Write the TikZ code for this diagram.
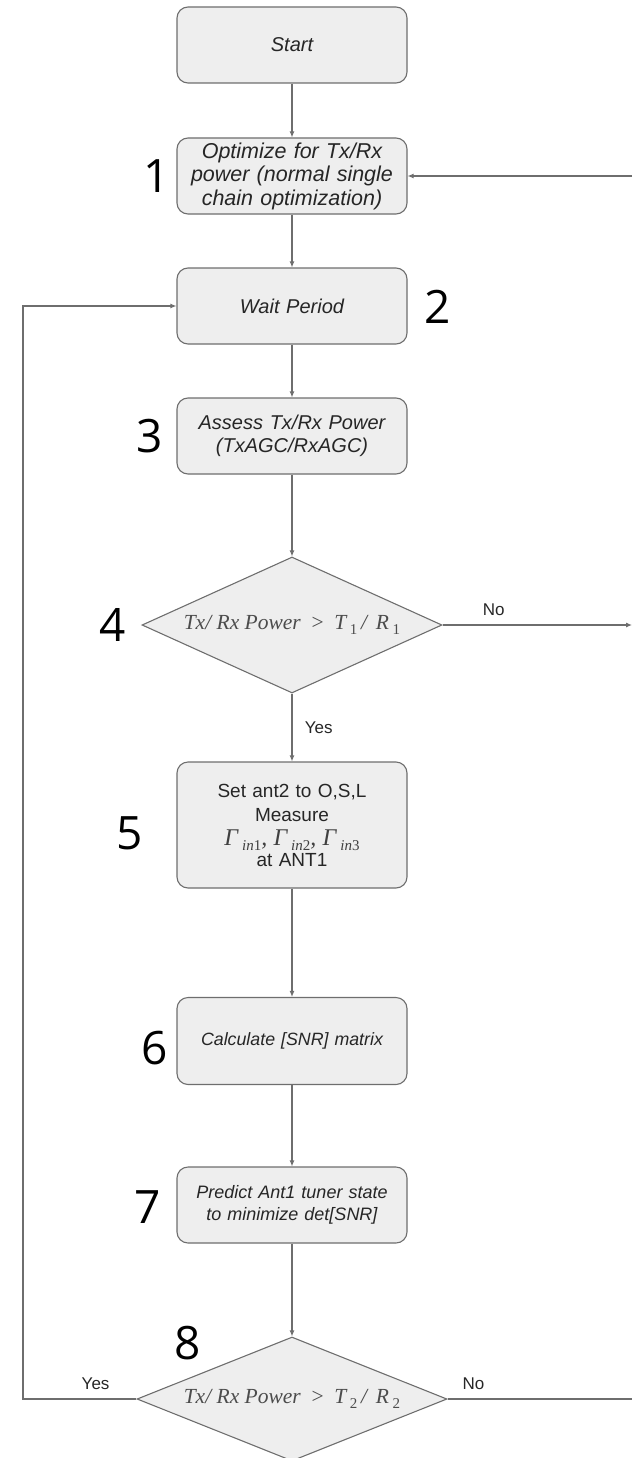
\documentclass[tikz,border=0pt]{standalone}
\usepackage{fontspec}
\setmainfont{Liberation Sans}
\newfontfamily\serifmath{Liberation Serif}
\newfontfamily\numfont{Open Sans}
\usetikzlibrary{shapes.geometric, arrows.meta}
\definecolor{boxfill}{HTML}{EEEEEE}
\definecolor{linegray}{HTML}{6E6E6E}
\newcommand{\lowsub}[1]{\raisebox{-5pt}{\fontsize{15}{15}\selectfont #1}}
\newcommand{\gam}[1]{Γ\,\lowsub{in\upshape #1}}
\tikzstyle{stepbox} =[rectangle, rounded corners=11pt, minimum width=230pt, text width=222pt, minimum height=76pt, align=center, draw=linegray, fill=boxfill, line width=1.1pt, text=black!85, font=\fontsize{20}{23}\selectfont\itshape]
\tikzstyle{decision} =[diamond, minimum width=300pt, minimum height=136pt, inner sep=0pt, draw=linegray, fill=boxfill, line width=1.1pt, text=black!70, font=\serifmath\fontsize{21.5}{24}\selectfont]
\tikzstyle{num} =[font=\numfont\fontsize{46}{50}\selectfont, text=black]
\tikzstyle{lbl} =[font=\fontsize{17}{20}\selectfont, text=black!85]
\tikzstyle{arrow} =[draw=linegray, line width=1.1pt, -{Latex[length=6pt,width=5pt]}]
\tikzstyle{link} =[draw=linegray, line width=1.1pt]

\begin{document}
\begin{tikzpicture}[x=1pt, y=-1pt, node distance=130pt]
\useasboundingbox (0,0) rectangle (632,1458);
\node (start) [stepbox] at (292,45) {Start};
\node (opt) [stepbox, below of=start, yshift=-1pt, font=\fontsize{21.5}{23.5}\selectfont\itshape] {Optimize for Tx/Rx\\power (normal single\\chain optimization)};
\node (wait) [stepbox, below of=opt] {Wait Period};
\node (assess) [stepbox, below of=wait] {Assess Tx/Rx Power\\(TxAGC/RxAGC)};
\node (dec1) [decision, below of=assess, yshift=-59pt] {\makebox[0pt]{\itshape Tx/\ Rx Power\ \ \upshape>\ \ \itshape T\,\lowsub{\upshape 1}\,/\ \,R\,\lowsub{\upshape 1}}};
\node (meas) [stepbox, below of=dec1, yshift=-70pt, minimum height=126pt, font=\fontsize{19}{24}\selectfont\upshape] {Set ant2 to O,S,L\\Measure\\{\serifmath\fontsize{24}{24}\selectfont\itshape\color{black!75}\gam{1}, \gam{2}, \gam{3}}\\[-3pt]at ANT1};
\node (calc) [stepbox, below of=meas, yshift=-86pt, minimum height=87pt, font=\fontsize{17.8}{21}\selectfont\itshape] {Calculate [SNR] matrix};
\node (pred) [stepbox, below of=calc, yshift=-34pt, font=\fontsize{18}{22}\selectfont\itshape] {Predict Ant1 tuner state\\to minimize det[SNR]};
\node (dec2) [decision, below of=pred, yshift=-64pt, minimum width=310pt, minimum height=124pt] {\makebox[0pt]{\itshape Tx/\ Rx Power\ \ \upshape>\ \ \itshape T\,\lowsub{\upshape 2}\,/\ \,R\,\lowsub{\upshape 2}}};
\node (n1) [num, left of=opt, xshift=-5pt] {1};
\node (n2) [num, right of=wait, xshift=16pt, yshift=-1pt] {2};
\node (n3) [num, left of=assess, xshift=-12pt] {3};
\node (n4) [num, left of=dec1, xshift=-49pt] {4};
\node (n5) [num, left of=meas, xshift=-32pt, yshift=-8pt] {5};
\node (n6) [num, left of=calc, xshift=-7pt, yshift=-7pt] {6};
\node (n7) [num, left of=pred, xshift=-14pt, yshift=-2pt] {7};
\node (n8) [num, left of=dec2, xshift=26pt, yshift=56pt] {8};
\coordinate (inR) at (632,176);
\coordinate (outR1) at (632,625);
\coordinate (outR2) at (632,1399);
\coordinate (backL) at (23,1399);
\draw [arrow] (start)--(opt);
\draw [arrow] (opt)--(wait);
\draw [arrow] (wait)--(assess);
\draw [arrow] (assess)--(dec1);
\draw [arrow] (dec1)--node[lbl, anchor=west, xshift=9pt]{Yes}(meas);
\draw [arrow] (dec1)--node[lbl, above, pos=0.27, yshift=5pt]{No}(outR1);
\draw [arrow] (inR)--(opt);
\draw [arrow] (meas)--(calc);
\draw [arrow] (calc)--(pred);
\draw [arrow] (pred)--(dec2);
\draw [link] (dec2)--node[lbl, above, pos=0.14, yshift=5pt]{No}(outR2);
\draw [arrow] (dec2)--node[lbl, above, pos=0.36, yshift=5pt]{Yes}(backL)|-(wait);
\end{tikzpicture}
\end{document}
